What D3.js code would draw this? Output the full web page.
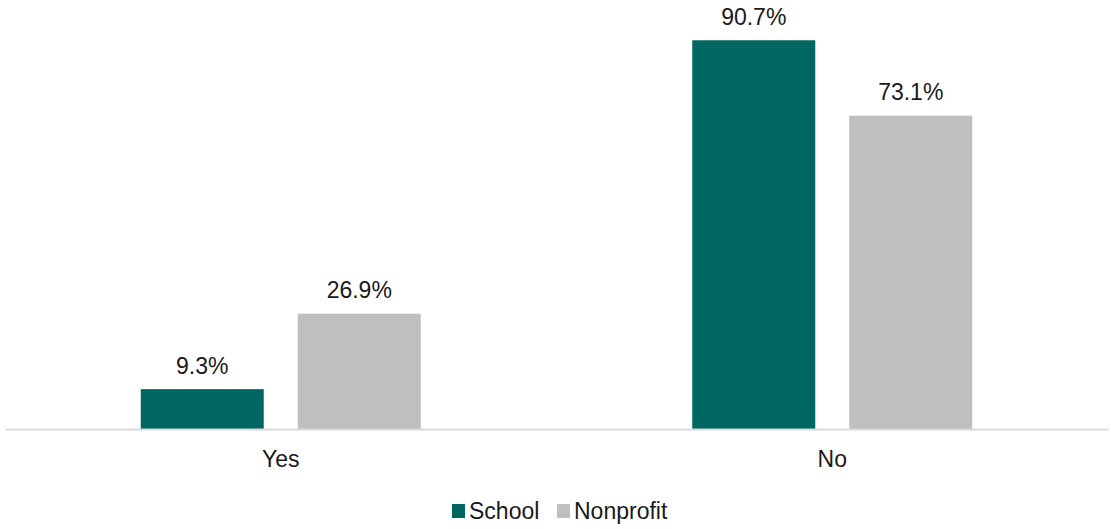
<!DOCTYPE html>
<html>
<head>
<meta charset="utf-8">
<script src="https://cdn.jsdelivr.net/npm/d3@7"></script>
<style>
  html, body { margin: 0; padding: 0; background: #fff; }
  svg text { font-family: "Liberation Sans Narrow", "Arial Narrow", "Liberation Sans", Arial, sans-serif; fill: #1a1a1a; }
</style>
</head>
<body>
<svg id="chart" width="1111" height="529"></svg>
<script>
const categories = ["Yes", "No"];
const seriesNames = ["School", "Nonprofit"];
const schoolValues = [9.3, 90.7];
const nonprofitValues = [26.9, 73.1];
const seriesColors = ["#006661", "#bfbfbf"];

const data = categories.map((c, i) => ({
  category: c,
  values: [
    { series: seriesNames[0], value: schoolValues[i] },
    { series: seriesNames[1], value: nonprofitValues[i] }
  ]
}));

const svg = d3.select("#chart");
const left = 5, right = 1108, baseline = 429;
const fontSize = "23px";

const x0 = d3.scaleBand().domain(categories).range([left, right]).paddingInner(0).paddingOuter(0);
const groupWidth = 280;
const x1 = d3.scaleBand().domain(seriesNames).range([0, groupWidth]).paddingInner(0.2166).paddingOuter(0);
const y = d3.scaleLinear().domain([0, 100]).range([baseline, baseline - 428.6]);
const color = d3.scaleOrdinal().domain(seriesNames).range(seriesColors);

const groups = svg.selectAll("g.group").data(data).join("g")
  .attr("class", "group")
  .attr("transform", d => `translate(${x0(d.category) + (x0.bandwidth() - groupWidth) / 2},0)`);

groups.selectAll("rect").data(d => d.values).join("rect")
  .attr("x", d => x1(d.series))
  .attr("y", d => y(d.value))
  .attr("width", x1.bandwidth())
  .attr("height", d => y(0) - y(d.value))
  .attr("fill", d => color(d.series));

groups.selectAll("text.val").data(d => d.values).join("text")
  .attr("class", "val")
  .attr("x", d => x1(d.series) + x1.bandwidth() / 2)
  .attr("y", d => y(d.value) - 15.5)
  .attr("text-anchor", "middle")
  .style("font-size", fontSize)
  .text(d => d.value.toFixed(1) + "%");

// x axis
const xAxis = d3.axisBottom(x0).tickSize(0).tickPadding(0);
const axisG = svg.append("g").attr("transform", `translate(0,${baseline})`).call(xAxis);
axisG.select(".domain").attr("stroke", "#d9d9d9").attr("stroke-width", 2);
axisG.selectAll("text").style("font-size", fontSize).attr("fill", "#1a1a1a").attr("dy", null).attr("y", 38);

// legend
const legendItems = [
  { name: seriesNames[0], x: 452 },
  { name: seriesNames[1], x: 557 }
];
const lg = svg.append("g").selectAll("g").data(legendItems).join("g")
  .attr("transform", d => `translate(${d.x},504)`);
lg.append("rect").attr("width", 13).attr("height", 14).attr("fill", d => color(d.name));
lg.append("text").attr("x", 17).attr("y", 15).style("font-size", fontSize).text(d => d.name);
</script>
</body>
</html>
